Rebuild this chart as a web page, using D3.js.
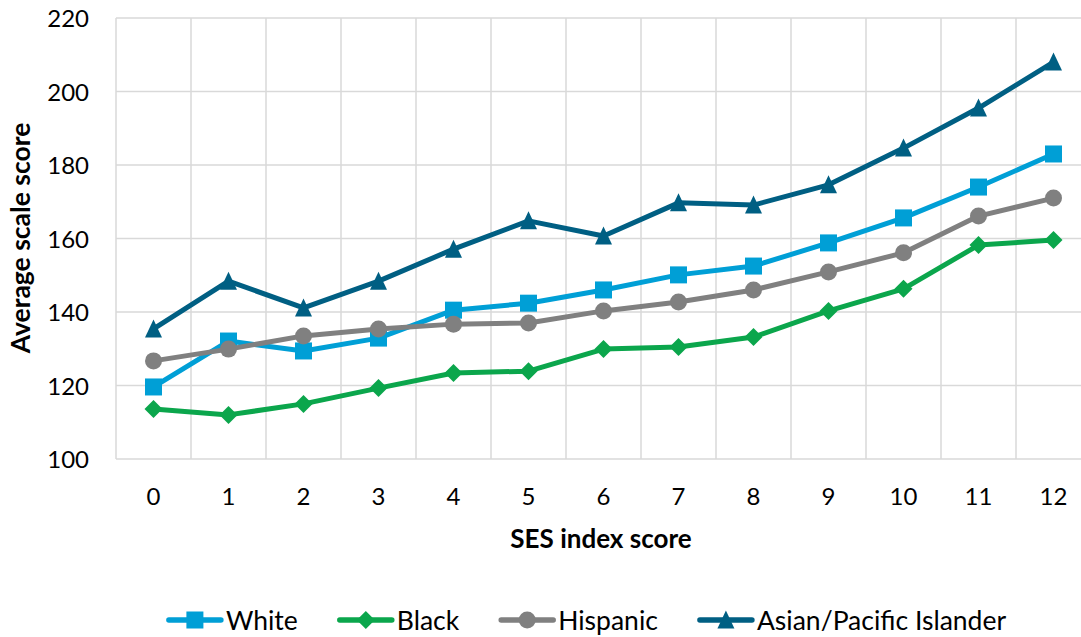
<!DOCTYPE html>
<html><head><meta charset="utf-8">
<script src="https://cdn.jsdelivr.net/npm/d3@7"></script>
<style>body{margin:0;background:#fff;} svg{display:block;font-family:Lato,"Open Sans",sans-serif;}</style>
</head><body><svg id="c" width="1081" height="637"></svg>
<script>
const categories = [0,1,2,3,4,5,6,7,8,9,10,11,12];
const white    = [119.6,132.1,129.4,132.9,140.5,142.4,146.0,150.1,152.5,158.8,165.6,174.0,183.0];
const black    = [113.6,112.0,115.0,119.3,123.4,123.9,129.9,130.5,133.2,140.3,146.3,158.2,159.6];
const hispanic = [126.7,129.9,133.5,135.4,136.7,137.0,140.3,142.7,146.0,150.9,156.1,166.1,171.0];
const asian    = [135.4,148.4,141.1,148.4,157.1,164.8,160.7,169.7,169.1,174.6,184.6,195.5,208.0];
const yTicks = [100,120,140,160,180,200,220];
const seriesNames = ["White","Black","Hispanic","Asian/Pacific Islander"];

const series = [
  {name:seriesNames[0], values:white, color:"#009FD6", shape:"square"},
  {name:seriesNames[1], values:black, color:"#0BA64C", shape:"diamond"},
  {name:seriesNames[2], values:hispanic, color:"#808080", shape:"circle"},
  {name:seriesNames[3], values:asian, color:"#005F83", shape:"triangle"}
];

const svg = d3.select("#c");
const L = 116, R = 1091, T = 18, B = 459;
const x = d3.scaleBand().domain(categories).range([L,R]);
const y = d3.scaleLinear().domain([100,220]).range([B,T]);

const g = svg.append("g");
// grid
g.selectAll(".hg").data(yTicks).join("line")
  .attr("x1",L).attr("x2",R).attr("y1",d=>y(d)).attr("y2",d=>y(d))
  .attr("stroke","#d9d9d9").attr("stroke-width",1.5);
const vlines = categories.map(c=>x(c)).concat([R]);
g.selectAll(".vg").data(vlines).join("line")
  .attr("x1",d=>d).attr("x2",d=>d).attr("y1",T).attr("y2",B)
  .attr("stroke","#d9d9d9").attr("stroke-width",1.5);

// axes
const yAxis = d3.axisLeft(y).tickValues(yTicks).tickSize(0).tickPadding(0);
const ya = svg.append("g").attr("transform",`translate(${L-27},0)`).call(yAxis);
ya.select(".domain").remove();
ya.selectAll("text").attr("font-size",24).attr("fill","#000").attr("font-family","Lato, sans-serif").attr("dy","0.36em");

const xAxis = d3.axisBottom(x).tickSize(0).tickPadding(0);
const xa = svg.append("g").attr("transform",`translate(0,${B})`).call(xAxis);
xa.select(".domain").remove();
xa.selectAll("text").attr("font-size",24).attr("fill","#000").attr("font-family","Lato, sans-serif").attr("y",46).attr("dy",0);

// titles
svg.append("text").attr("x",601).attr("y",548).attr("text-anchor","middle")
  .attr("font-size",26).attr("font-weight","bold").text("SES index score");
svg.append("text").attr("transform","translate(30,238) rotate(-90)").attr("text-anchor","middle")
  .attr("font-size",26.5).attr("font-weight","bold").text("Average scale score");

const cx = c => x(c) + x.bandwidth()/2;
function marker(sel, shape, color, size){
  if(shape==="square"){
    sel.append("rect").attr("x",-size/2).attr("y",-size/2).attr("width",size).attr("height",size).attr("fill",color);
  } else if(shape==="diamond"){
    const s=size/2+0.5;
    sel.append("path").attr("d",`M0,${-s}L${s},0L0,${s}L${-s},0Z`).attr("fill",color);
  } else if(shape==="circle"){
    sel.append("circle").attr("r",size/2).attr("fill",color);
  } else {
    const s=size/2;
    sel.append("path").attr("d",`M0,${-s-1}L${s},${s}L${-s},${s}Z`).attr("fill",color);
  }
}

const line = d3.line().x((d,i)=>cx(categories[i])).y(d=>y(d));
series.forEach(s=>{
  g.append("path").datum(s.values).attr("d",line).attr("fill","none")
    .attr("stroke",s.color).attr("stroke-width",5).attr("stroke-linejoin","round");
  s.values.forEach((v,i)=>{
    const m = g.append("g").attr("transform",`translate(${cx(categories[i])},${y(v)})`);
    marker(m, s.shape, s.color, 17);
  });
});

// legend
const lg = svg.append("g").attr("transform","translate(0,620)");
const items = [];
let lx = 0;
series.forEach(s=>{
  const it = lg.append("g");
  it.append("line").attr("x1",2).attr("x2",54).attr("stroke",s.color).attr("stroke-width",5.5).attr("stroke-linecap","round");
  const m = it.append("g").attr("transform","translate(28,0)");
  marker(m, s.shape, s.color, 17);
  const t = it.append("text").attr("x",59).attr("dy","0.36em").attr("font-size",26.5).attr("fill","#000").text(s.name);
  const w = t.node().getComputedTextLength();
  items.push({it, lx});
  lx += 59 + w + 40;
});
const total = lx - 40;
const start = 586.5 - total/2;
items.forEach(d=>d.it.attr("transform",`translate(${start + d.lx},0)`));
</script></body></html>
